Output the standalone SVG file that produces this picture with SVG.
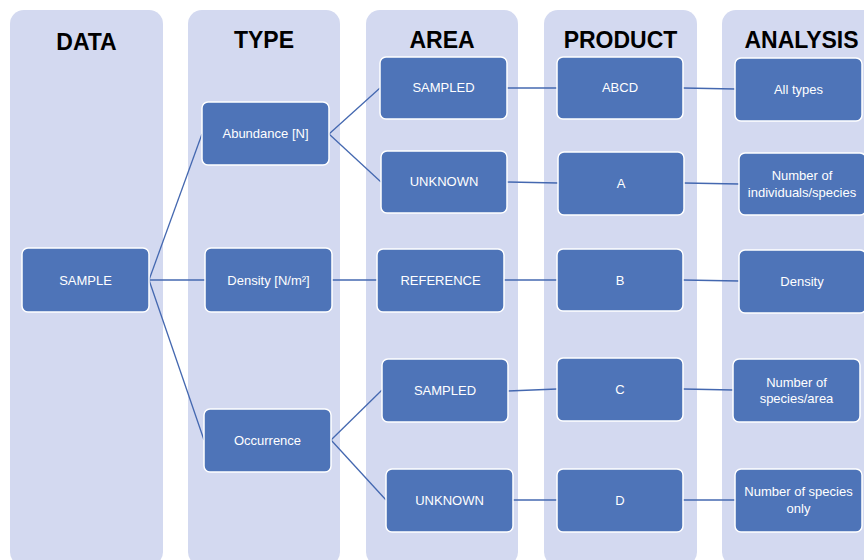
<svg xmlns="http://www.w3.org/2000/svg" width="864" height="560" viewBox="0 0 864 560">
<style>
.lane{fill:#D3D9F0}
.title{font-family:"Liberation Sans",Arial,sans-serif;font-weight:bold;font-size:23px;fill:#000;text-anchor:middle}
.node rect{fill:#4E74B8;stroke:#fff;stroke-width:1.5}
.node text{font-family:"Liberation Sans",Arial,sans-serif;font-size:13px;fill:#fff;text-anchor:middle}
.conn line{stroke:#4468B0;stroke-width:1.3}
</style>
<rect width="864" height="560" fill="#fff"/>
<g id="lanes">
<rect class="lane" x="10" y="10" width="153" height="556" rx="14"/>
<rect class="lane" x="188" y="10" width="152" height="556" rx="14"/>
<rect class="lane" x="366" y="10" width="152" height="556" rx="14"/>
<rect class="lane" x="544" y="10" width="153" height="556" rx="14"/>
<rect class="lane" x="722" y="10" width="160" height="556" rx="14"/>
</g>
<g id="titles">
<text class="title" x="86.5" y="50">DATA</text>
<text class="title" x="264" y="48">TYPE</text>
<text class="title" x="442" y="48">AREA</text>
<text class="title" x="620.5" y="48">PRODUCT</text>
<text class="title" x="801.5" y="48" font-size="22.5">ANALYSIS</text>
</g>
<g id="connectors" class="conn">
<line x1="149" y1="280" x2="202" y2="134"/>
<line x1="149" y1="280" x2="205" y2="280"/>
<line x1="149" y1="280" x2="204" y2="440"/>
<line x1="329" y1="134" x2="380" y2="88"/>
<line x1="329" y1="134" x2="381" y2="182"/>
<line x1="332" y1="280" x2="377" y2="280"/>
<line x1="331" y1="440" x2="382" y2="390"/>
<line x1="331" y1="440" x2="386" y2="500"/>
<line x1="507" y1="88" x2="557" y2="88"/>
<line x1="507" y1="182" x2="558" y2="183"/>
<line x1="504" y1="280" x2="557" y2="280"/>
<line x1="508" y1="391" x2="557" y2="389"/>
<line x1="513" y1="500" x2="557" y2="500"/>
<line x1="683" y1="88" x2="735" y2="89"/>
<line x1="684" y1="183" x2="739" y2="184"/>
<line x1="683" y1="280" x2="739" y2="281"/>
<line x1="683" y1="389" x2="733" y2="390"/>
<line x1="683" y1="500" x2="735" y2="500"/>
</g>
<g id="sample" class="node"><rect x="22" y="248" width="127" height="64" rx="6"/><text x="85.5" y="284.5">SAMPLE</text></g>
<g id="abundance" class="node"><rect x="202" y="102" width="127" height="63" rx="6"/><text x="265.5" y="138">Abundance [N]</text></g>
<g id="density-type" class="node"><rect x="205" y="248" width="127" height="64" rx="6"/><text x="268.5" y="285">Density [N/m²]</text></g>
<g id="occurrence" class="node"><rect x="204" y="409" width="127" height="63" rx="6"/><text x="267.5" y="445">Occurrence</text></g>
<g id="area-sampled-1" class="node"><rect x="380" y="57" width="127" height="62" rx="6"/><text x="443.5" y="92">SAMPLED</text></g>
<g id="area-unknown-1" class="node"><rect x="381" y="151" width="126" height="62" rx="6"/><text x="444" y="186">UNKNOWN</text></g>
<g id="area-reference" class="node"><rect x="377" y="249" width="127" height="63" rx="6"/><text x="440.5" y="284.5">REFERENCE</text></g>
<g id="area-sampled-2" class="node"><rect x="382" y="359" width="126" height="63" rx="6"/><text x="445" y="395">SAMPLED</text></g>
<g id="area-unknown-2" class="node"><rect x="386" y="469" width="127" height="63" rx="6"/><text x="449.5" y="505">UNKNOWN</text></g>
<g id="product-abcd" class="node"><rect x="557" y="57" width="126" height="62" rx="6"/><text x="620" y="92">ABCD</text></g>
<g id="product-a" class="node"><rect x="558" y="152" width="126" height="63" rx="6"/><text x="621" y="188">A</text></g>
<g id="product-b" class="node"><rect x="557" y="249" width="126" height="62" rx="6"/><text x="620" y="284.5">B</text></g>
<g id="product-c" class="node"><rect x="557" y="358" width="126" height="63" rx="6"/><text x="620" y="394">C</text></g>
<g id="product-d" class="node"><rect x="557" y="469" width="126" height="63" rx="6"/><text x="620" y="505">D</text></g>
<g id="analysis-all" class="node"><rect x="735" y="58" width="127" height="63" rx="6"/><text x="798.5" y="94">All types</text></g>
<g id="analysis-individuals" class="node"><rect x="739" y="153" width="127" height="62" rx="6"/><text x="802" y="180">Number of</text><text x="802" y="197">individuals/species</text></g>
<g id="analysis-density" class="node"><rect x="739" y="250" width="127" height="63" rx="6"/><text x="802" y="286">Density</text></g>
<g id="analysis-species-area" class="node"><rect x="733" y="359" width="127" height="63" rx="6"/><text x="796.5" y="387">Number of</text><text x="796.5" y="403">species/area</text></g>
<g id="analysis-species-only" class="node"><rect x="735" y="469" width="127" height="63" rx="6"/><text x="798.5" y="496">Number of species</text><text x="798.5" y="513">only</text></g>
</svg>
